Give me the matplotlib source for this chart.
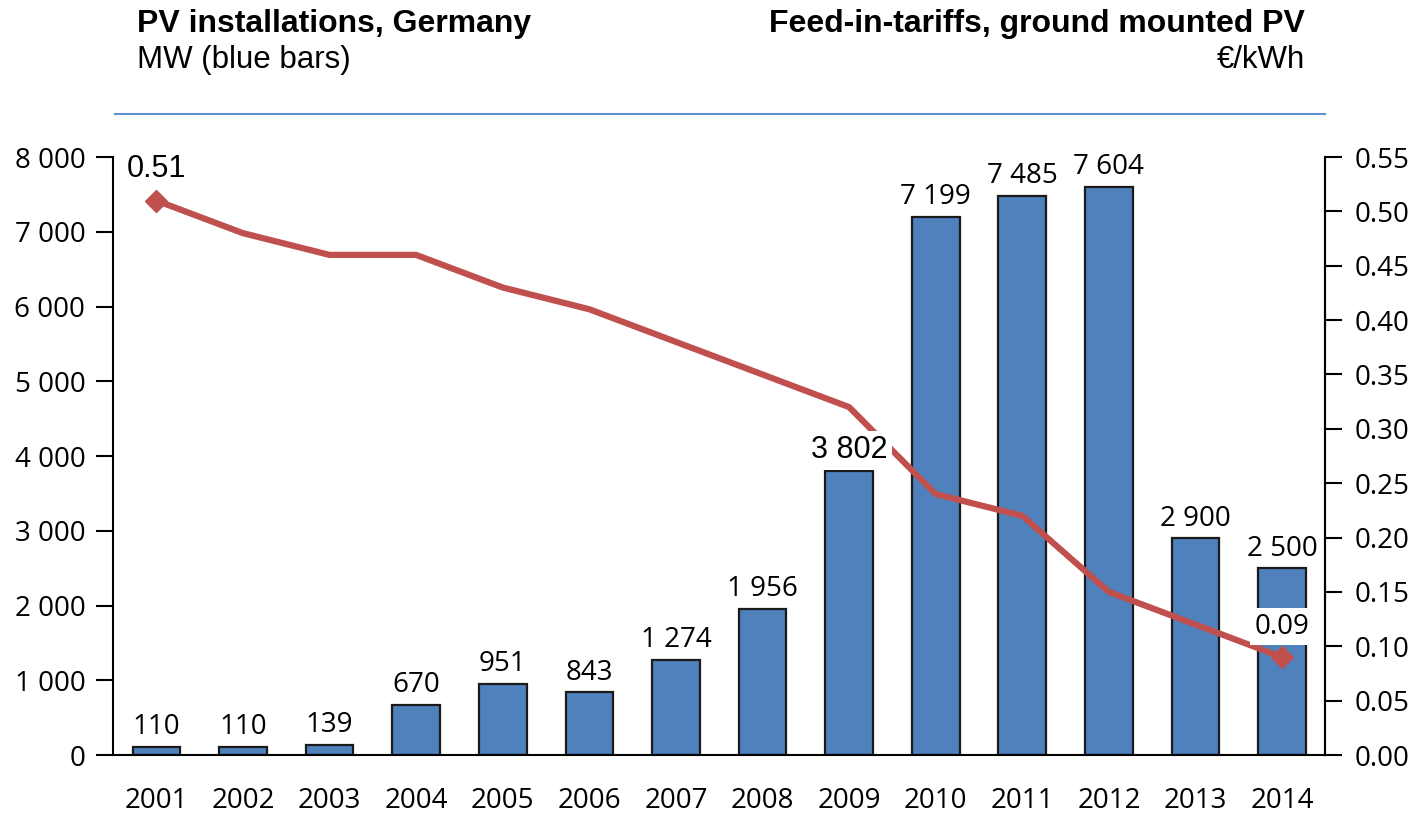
import matplotlib.pyplot as plt
import numpy as np

years = ["2001", "2002", "2003", "2004", "2005", "2006", "2007",
         "2008", "2009", "2010", "2011", "2012", "2013", "2014"]
mw = [110, 110, 139, 670, 951, 843, 1274, 1956, 3802, 7199, 7485, 7604, 2900, 2500]
tariff = [0.51, 0.48, 0.46, 0.46, 0.43, 0.41, 0.38, 0.35, 0.32, 0.24, 0.22, 0.15, 0.12, 0.09]

tick_font = "Open Sans"
title_font = "Liberation Sans"
fs = 20

fig = plt.figure(figsize=(14.13, 8.18), dpi=100)
ax = fig.add_axes([0.080, 0.077, 0.858, 0.731])
ax2 = ax.twinx()

x = np.arange(len(years))
ax.bar(x, mw, width=0.55, color="#4F81BD", edgecolor="#1a1a1a", linewidth=1.6, zorder=2)
ax.set_xlim(-0.5, len(years) - 0.5)
ax.set_ylim(0, 8000)
ax.set_yticks(np.arange(0, 8001, 1000))
ax.set_yticklabels([f"{v:,}".replace(",", " ") for v in range(0, 8001, 1000)],
                   fontsize=fs, family=tick_font)
ax.set_xticks(x)
ax.set_xticklabels(years, fontsize=fs, family=tick_font)
ax.tick_params(axis="x", length=0, pad=23)
ax.tick_params(axis="y", length=12, width=1.5, direction="out", pad=8)

ax2.set_ylim(0, 0.55)
ax2.set_yticks(np.arange(0, 0.551, 0.05))
ax2.set_yticklabels([f"{v:.2f}" for v in np.arange(0, 0.551, 0.05)],
                    fontsize=fs, family=tick_font)
ax2.tick_params(axis="y", length=12, width=1.5, direction="out", pad=9)

for a in (ax, ax2):
    a.spines["top"].set_visible(False)
    for s in ("left", "right", "bottom"):
        a.spines[s].set_linewidth(1.5)
ax2.spines["left"].set_visible(False)
ax2.spines["bottom"].set_visible(False)

ax2.plot(x, tariff, color="#C0504D", linewidth=4.5, zorder=3)
ax2.plot([x[0], x[-1]], [tariff[0], tariff[-1]], linestyle="none",
         marker="D", markersize=11, color="#C0504D", zorder=3)

# bar value labels (drawn on ax2 so they sit above the line)
for i, v in enumerate(mw):
    label = f"{v:,}".replace(",", " ")
    if i == 8:
        ax2.annotate(label, (i, v), xycoords=ax.transData, xytext=(0, 9),
                     textcoords="offset points", ha="center", va="baseline",
                     fontsize=22, family=title_font, zorder=5,
                     bbox=dict(facecolor="white", edgecolor="none", pad=3))
    else:
        ax2.annotate(label, (i, v), xycoords=ax.transData, xytext=(0, 9),
                     textcoords="offset points", ha="center", va="baseline",
                     fontsize=fs, family=tick_font, zorder=5)

ax2.annotate("0.51", (x[0], tariff[0]), xytext=(0, 17), textcoords="offset points",
             ha="center", va="baseline", fontsize=22, family=title_font, zorder=5)
ax2.annotate("0.09", (x[-1], tariff[-1]), xytext=(0, 17), textcoords="offset points",
             ha="center", va="baseline", fontsize=fs, family=tick_font, zorder=5,
             bbox=dict(facecolor="white", edgecolor="none", pad=3))

# header
fig.text(137 / 1413, 1 - 24 / 818, "PV installations, Germany", fontsize=23,
         fontweight="bold", family=title_font, va="center", ha="left")
fig.text(137 / 1413, 1 - 60 / 818, "MW (blue bars)", fontsize=22.5,
         family=title_font, va="center", ha="left")
fig.text(1305 / 1413, 1 - 24 / 818, "Feed-in-tariffs, ground mounted PV", fontsize=23,
         fontweight="bold", family=title_font, va="center", ha="right")
fig.text(1305 / 1413, 1 - 60 / 818, "€/kWh", fontsize=22.5,
         family=title_font, va="center", ha="right")
fig.add_artist(plt.Line2D([115 / 1413, 1325 / 1413], [1 - 114 / 818, 1 - 114 / 818],
                          color="#5B8FD0", linewidth=1.5))

fig.savefig("out.png", dpi=100)
